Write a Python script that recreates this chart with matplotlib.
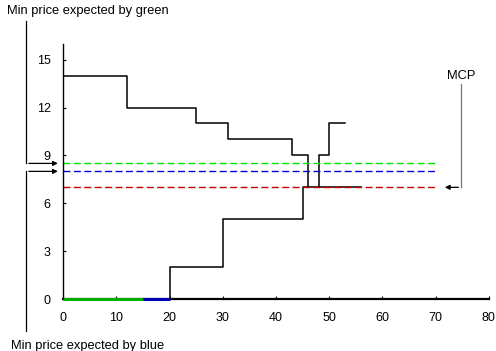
import matplotlib
matplotlib.use("Agg")
import matplotlib.pyplot as plt

plt.rcParams['font.family'] = ['Liberation Sans', 'DejaVu Sans']

# Offer / bid step curves (quantity breakpoints, price levels)
bid_x = [0, 12, 12, 25, 25, 31, 31, 43, 43, 46, 46]
bid_y = [14, 14, 12, 12, 11, 11, 10, 10, 9, 9, 7]

offer_x = [20, 20, 30, 30, 45, 45, 56]
offer_y = [0, 2, 2, 5, 5, 7, 7]

upper_x = [48, 48, 50, 50, 53]
upper_y = [7, 9, 9, 11, 11]

# Quantities at zero price
green_seg = [0, 15]
blue_seg = [15, 20]

# Reference price levels
green_price = 8.5
blue_price = 8
mcp_price = 7
level_end = 70

x_ticks = [0, 10, 20, 30, 40, 50, 60, 70, 80]
y_ticks = [0, 3, 6, 9, 12, 15]

fig = plt.figure(figsize=(4.96, 3.51), dpi=100)
ax = fig.add_axes([0.1276, 0.148, 0.858, 0.7275])

ax.plot(bid_x, bid_y, color='black', lw=1.1)
ax.plot(offer_x, offer_y, color='black', lw=1.1)
ax.plot(upper_x, upper_y, color='black', lw=1.1)

ax.plot(green_seg, [0, 0], color='#00b000', lw=2.2, solid_capstyle='butt', zorder=4, clip_on=False)
ax.plot(blue_seg, [0, 0], color='#0000b0', lw=2.2, solid_capstyle='butt', zorder=4, clip_on=False)

ax.plot([0, level_end], [green_price] * 2, color='#00e600', lw=1.0, dashes=(5, 2.5))
ax.plot([0, level_end], [blue_price] * 2, color='#0000dd', lw=1.0, dashes=(5, 2.5))
ax.plot([0, level_end], [mcp_price] * 2, color='#c80000', lw=1.0, dashes=(5, 2.5))

ax.set_xlim(0, 80)
ax.set_ylim(0, 16)
ax.set_xticks(x_ticks)
ax.set_yticks(y_ticks)
ax.spines['top'].set_visible(False)
ax.spines['right'].set_visible(False)
ax.spines['left'].set_linewidth(1.0)
ax.spines['bottom'].set_linewidth(1.6)
ax.tick_params(direction='in', length=2.5, width=0.8, labelsize=9, pad=9)

# Annotations with elbow arrows
arrow_kw = dict(arrowstyle='-|>', color='black', lw=0.9, mutation_scale=7)
line_kw = dict(color='black', lw=0.9, clip_on=False)

ax.text(-10.6, 18.05, 'Min price expected by green', fontsize=9.3, ha='left', va='center')
ax.plot([-7.0, -7.0], [17.4, green_price], **line_kw)
ax.annotate('', xy=(-0.5, green_price), xytext=(-7.0, green_price),
            arrowprops=arrow_kw, annotation_clip=False)

ax.text(-9.9, -2.95, 'Min price expected by blue', fontsize=9.3, ha='left', va='center')
ax.plot([-7.0, -7.0], [-2.0, blue_price], **line_kw)
ax.annotate('', xy=(-0.5, blue_price), xytext=(-7.0, blue_price),
            arrowprops=arrow_kw, annotation_clip=False)

ax.text(74.8, 14.0, 'MCP', fontsize=9.3, ha='center', va='center')
ax.plot([74.8, 74.8], [13.5, mcp_price], color='#777777', lw=0.9, clip_on=False)
ax.annotate('', xy=(71.2, mcp_price), xytext=(74.8, mcp_price),
            arrowprops=arrow_kw, annotation_clip=False)

fig.savefig('out.png', dpi=100)
